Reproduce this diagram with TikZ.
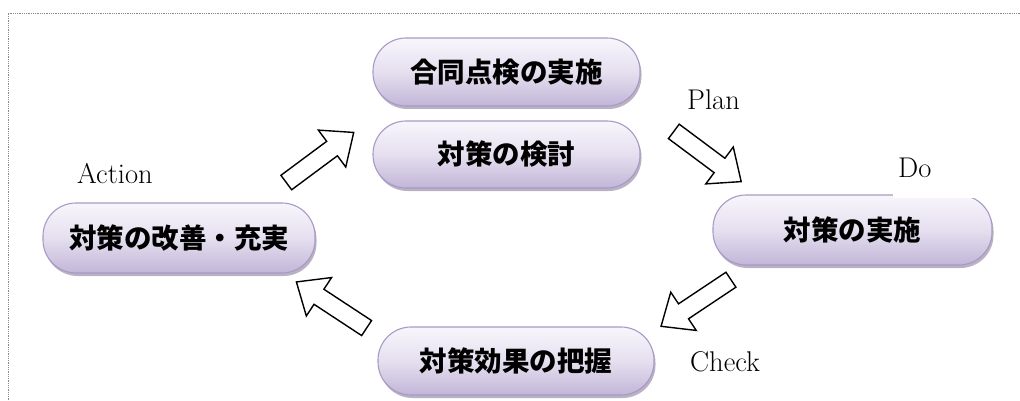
\documentclass[tikz,border=0pt]{standalone}
\usepackage{fontspec}
\newfontfamily\jp{Noto Sans CJK JP}
\usetikzlibrary{shadows}
\definecolor{pilltop}{HTML}{F8F6FC}
\definecolor{pillmid}{HTML}{E5DFEF}
\definecolor{pillbot}{HTML}{C2B6D8}
\definecolor{pillline}{HTML}{A89AC4}
\definecolor{pillshadow}{HTML}{8A7F9E}
\definecolor{framegray}{HTML}{8A8A8A}
\begin{document}
\begin{tikzpicture}[x=1pt,y=-1pt,
  pill/.style={rounded corners=33pt, draw=pillline, line width=1.1pt,
    top color=pilltop, bottom color=pillbot, middle color=pillmid,
    font=\jp\bfseries\fontsize{27.5}{30}\selectfont, text=black, inner sep=0pt,
    drop shadow={shadow xshift=1.5pt, shadow yshift=-3pt, fill=pillshadow, opacity=0.6}},
  lbl/.style={font=\fontsize{28.5}{32}\selectfont, inner sep=0pt, anchor=base west},
  framestyle/.style={draw=framegray, line width=0.9pt, dash pattern=on 0.9pt off 0.9pt},
  barrow/.pic={\draw[line width=1.4pt, fill=white, line join=miter]
    (-42,-9) -- (15,-9) -- (15,-23) -- (42,0) -- (15,23) -- (15,9) -- (-42,9) -- cycle;}
]
\useasboundingbox (0,0) rectangle (1020,401);
\clip (0,0) rectangle (1020,401);
\draw[framestyle] (8,420) -- (8,13) -- (1040,13);

\node[pill, minimum width=267pt, minimum height=68pt] (p1) at (506.5,72) {合同点検の実施};
\node[pill, minimum width=267pt, minimum height=67pt] (p2) at (506.5,154.5) {対策の検討};
\node[pill, minimum width=279pt, minimum height=70pt] (p3) at (852.5,230) {対策の実施};
\node[pill, minimum width=276pt, minimum height=68pt] (p4) at (516,361) {対策効果の把握};
\node[pill, minimum width=272pt, minimum height=70pt] (p5) at (179,238) {対策の改善・充実};

\fill[white] (893,148) rectangle (1000,198);

\node[lbl] (action) at (77,183) {Action};
\node[lbl] (plan) at (687,110) {Plan};
\node[lbl] (do) at (898,177) {Do};
\node[lbl] (check) at (690,371) {Check};

\pic[rotate=36.6] at (320,157.5) {barrow};
\pic[rotate=-36.7] at (707.5,156.5) {barrow};
\pic[rotate=213.7] at (696,303) {barrow};
\pic[rotate=146.7] at (331.5,305) {barrow};
\end{tikzpicture}
\end{document}
